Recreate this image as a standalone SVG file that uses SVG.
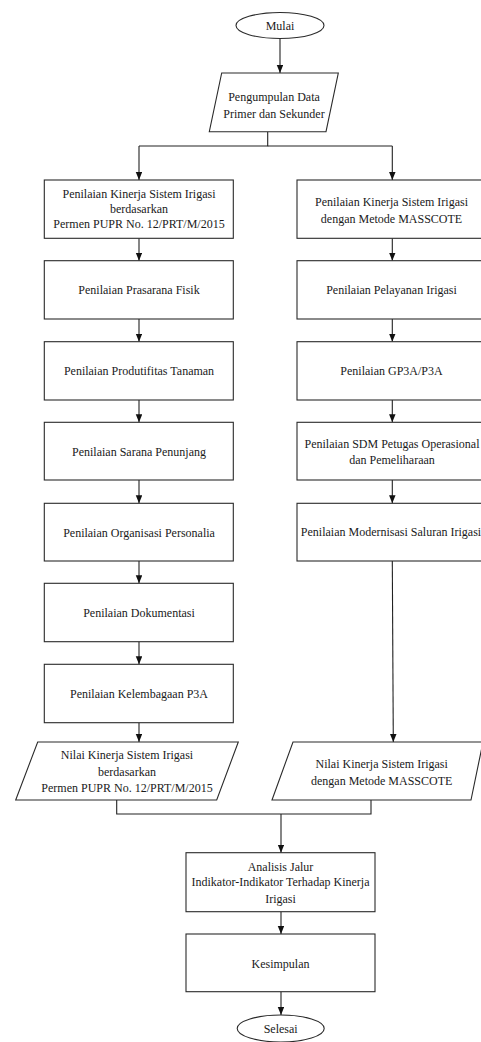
<svg xmlns="http://www.w3.org/2000/svg" width="481" height="1042" viewBox="0 0 481 1042">
<defs>
<marker id="ah" markerWidth="8" markerHeight="7" refX="8" refY="3.25" orient="auto" markerUnits="userSpaceOnUse">
<path d="M0,0 L8,3.25 L0,6.5 z" fill="#111"/>
</marker>
</defs>
<style>
.s{fill:#fff;stroke:#2a2a2a;stroke-width:1.1}
text{font-family:'Liberation Serif','Times New Roman',Times,serif;font-size:12px;fill:#1a1a1a;text-anchor:middle}
.c{fill:none;stroke:#222;stroke-width:1.1}
.a{fill:none;stroke:#222;stroke-width:1.1;marker-end:url(#ah)}
</style>
<rect width="481" height="1042" fill="#fff"/>
<g id="connectors">
<line class="a" x1="280" y1="38.5" x2="280" y2="73"/>
<polyline class="c" points="267.7,131.7 267.7,146 139,146"/>
<line class="a" x1="139" y1="146" x2="139" y2="180"/>
<polyline class="c" points="267.7,146 392.3,146"/>
<line class="a" x1="392.3" y1="146" x2="392.3" y2="180"/>
<line class="a" x1="139" y1="238.3" x2="139" y2="260.7"/>
<line class="a" x1="139" y1="319" x2="139" y2="341.7"/>
<line class="a" x1="139" y1="400" x2="139" y2="422.3"/>
<line class="a" x1="139" y1="480" x2="139" y2="503.3"/>
<line class="a" x1="139" y1="561" x2="139" y2="583.3"/>
<line class="a" x1="139" y1="641.7" x2="139" y2="664.3"/>
<line class="a" x1="139" y1="722.7" x2="139" y2="742"/>
<line class="a" x1="392.3" y1="238.3" x2="392.3" y2="260.7"/>
<line class="a" x1="392.3" y1="319" x2="392.3" y2="341.7"/>
<line class="a" x1="392.3" y1="400" x2="392.3" y2="422.3"/>
<line class="a" x1="392.3" y1="480" x2="392.3" y2="503.3"/>
<line class="a" x1="392.3" y1="561" x2="393.3" y2="742"/>
<polyline class="c" points="116.7,800 116.7,814 371,814 371,800"/>
<line class="a" x1="281" y1="814" x2="281" y2="852.7"/>
<line class="a" x1="281" y1="911.7" x2="281" y2="934"/>
<line class="a" x1="281" y1="991.7" x2="281" y2="1015"/>
</g>
<g id="mulai">
<ellipse class="s" cx="280" cy="25.5" rx="44" ry="13"/>
<text x="280" y="30">Mulai</text>
</g>
<g id="pengumpulan">
<polygon class="s" points="221.7,73 338.3,73 326,131.7 209.3,131.7"/>
<text x="274" y="101">Pengumpulan Data</text>
<text x="274" y="117.5">Primer dan Sekunder</text>
</g>
<g id="l1">
<rect class="s" x="44.3" y="180" width="189" height="58.3"/>
<text x="139" y="197.5">Penilaian Kinerja Sistem Irigasi</text>
<text x="139" y="212.8">berdasarkan</text>
<text x="139" y="228.3">Permen PUPR No. 12/PRT/M/2015</text>
</g>
<g id="l2">
<rect class="s" x="44.3" y="260.7" width="189" height="58.3"/>
<text x="139" y="294.3">Penilaian Prasarana Fisik</text>
</g>
<g id="l3">
<rect class="s" x="44.3" y="341.7" width="189" height="58.3"/>
<text x="139" y="374.5">Penilaian Produtifitas Tanaman</text>
</g>
<g id="l4">
<rect class="s" x="44.3" y="422.3" width="189" height="57.7"/>
<text x="139" y="456">Penilaian Sarana Penunjang</text>
</g>
<g id="l5">
<rect class="s" x="44.3" y="503.3" width="189" height="57.7"/>
<text x="139" y="536.5">Penilaian Organisasi Personalia</text>
</g>
<g id="l6">
<rect class="s" x="44.3" y="583.3" width="189" height="58.4"/>
<text x="139" y="617">Penilaian Dokumentasi</text>
</g>
<g id="l7">
<rect class="s" x="44.3" y="664.3" width="189" height="58.4"/>
<text x="139" y="697.7">Penilaian Kelembagaan P3A</text>
</g>
<g id="l8">
<polygon class="s" points="37.7,742 238.3,742 216.7,800 15.7,800"/>
<text x="127" y="759.3">Nilai Kinerja Sistem Irigasi</text>
<text x="127" y="776">berdasarkan</text>
<text x="127" y="792">Permen PUPR No. 12/PRT/M/2015</text>
</g>
<g id="r1">
<rect class="s" x="297" y="180" width="189" height="58.3"/>
<text x="391.5" y="206">Penilaian Kinerja Sistem Irigasi</text>
<text x="391.5" y="222.6">dengan Metode MASSCOTE</text>
</g>
<g id="r2">
<rect class="s" x="297" y="260.7" width="189" height="58.3"/>
<text x="391.5" y="294.3">Penilaian Pelayanan Irigasi</text>
</g>
<g id="r3">
<rect class="s" x="297" y="341.7" width="189" height="58.3"/>
<text x="391.5" y="374.5">Penilaian GP3A/P3A</text>
</g>
<g id="r4">
<rect class="s" x="297" y="422.3" width="189" height="57.7"/>
<text x="392" y="447.6">Penilaian SDM Petugas Operasional</text>
<text x="392" y="464.3">dan Pemeliharaan</text>
</g>
<g id="r5">
<rect class="s" x="297" y="503.3" width="189" height="57.7"/>
<text x="391" y="536">Penilaian Modernisasi Saluran Irigasi</text>
</g>
<g id="r6">
<polygon class="s" points="293,742 483,742 471,800 272,800"/>
<text x="381.7" y="767.6">Nilai Kinerja Sistem Irigasi</text>
<text x="381.7" y="785">dengan Metode MASSCOTE</text>
</g>
<g id="analisis">
<rect class="s" x="186" y="852.7" width="189" height="59"/>
<text x="280.5" y="871">Analisis Jalur</text>
<text x="280.5" y="886">Indikator-Indikator Terhadap Kinerja</text>
<text x="280.5" y="902.6">Irigasi</text>
</g>
<g id="kesimpulan">
<rect class="s" x="186" y="934" width="189" height="57.7"/>
<text x="280.5" y="967.6">Kesimpulan</text>
</g>
<g id="selesai">
<ellipse class="s" cx="280.7" cy="1028.5" rx="43.5" ry="13.5"/>
<text x="280.7" y="1033">Selesai</text>
</g>
</svg>
